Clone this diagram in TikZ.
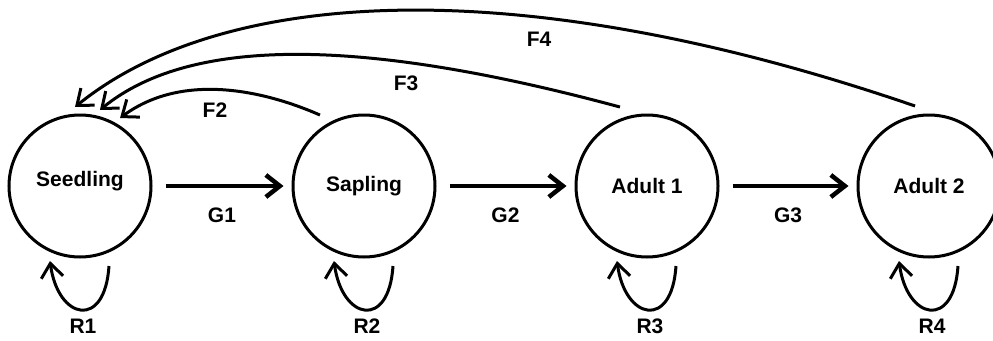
\documentclass[tikz,border=0pt]{standalone}
\usepackage{fontspec}
\setmainfont{Liberation Sans}
\usetikzlibrary{arrows.meta,calc}

\begin{document}
\begin{tikzpicture}[x=1pt,y=1pt,
  txt/.style={font=\fontsize{21}{25}\selectfont\bfseries},
  stage/.style={circle, draw, line width=3pt, minimum size=142pt, inner sep=0pt, txt},
  lbl/.style={txt, inner sep=0pt},
  barbline/.style={-{Straight Barb[length=14pt,width=22pt]}, line width=3pt},
  growline/.style={barbline, line width=4.5pt, shorten <=13pt, shorten >=8pt},
]
\useasboundingbox (0,0) rectangle (993,-340);

% life stages
\node[stage] (seed) at (80,-186) {\raisebox{5pt}[\height][\depth]{Seedling}};
\node[stage] (sap)  at (364,-186) {Sapling};
\node[stage] (ad1)  at (647,-186) {Adult 1};
\node[stage] (ad2)  at (929,-186) {Adult 2};

% growth transitions
\draw[growline] (seed) -- node[lbl, yshift=-29pt] (g1) {G1} (sap);
\draw[growline] (sap)  -- node[lbl, yshift=-29pt] (g2) {G2} (ad1);
\draw[growline] (ad1)  -- node[lbl, yshift=-29pt] (g3) {G3} (ad2);

% retention loops
\foreach \s/\r in {seed/R1, sap/R2, ad1/R3, ad2/R4} {
  \draw[barbline] ($(\s)+(-70.1:85.1)$) .. controls +(-4,-64) and +(8,-59) .. ($(\s)+(-111.8:80.8)$);
  \node[lbl] (lab\r) at ($(\s)+(3,-140)$) {\r};
}

% fecundity back to seedlings
\draw[barbline] ($(sap)+(121.8:83.5)$) .. controls +(-50,22) and +(65,48) .. ($(seed)+(59.5:78.9)$);
\draw[barbline] ($(ad1)+(108.9:83.5)$) .. controls +(-250,67.5) and +(93,76) .. ($(seed)+(75.3:78.6)$);
\draw[barbline] ($(ad2)+(99.9:81.2)$) .. controls +(-397.3,136.5) and +(147.6,119.5) .. ($(seed)+(93.6:79.2)$);

\node[lbl] (f2) at (215,-110) {F2};
\node[lbl] (f3) at (406,-83) {F3};
\node[lbl] (f4) at (539,-39) {F4};
\end{tikzpicture}
\end{document}
